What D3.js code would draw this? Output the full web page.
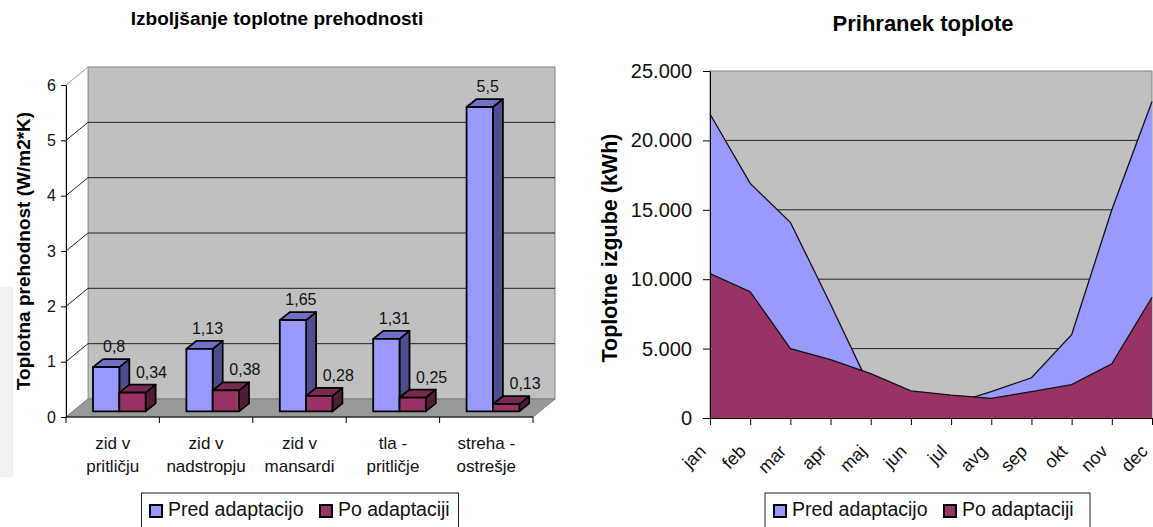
<!DOCTYPE html>
<html>
<head>
<meta charset="utf-8">
<script src="https://cdn.jsdelivr.net/npm/d3@7"></script>
<style>
  body { margin: 0; background: #fff; }
  svg { display: block; font-family: "Liberation Sans", Arial, sans-serif; }
</style>
</head>
<body>
<script>
const width = 1153;
const height = 527;

// levi graf - toplotna prehodnost
const categories = ["zid v\npritličju", "zid v\nnadstropju", "zid v\nmansardi", "tla -\npritličje", "streha -\nostrešje"];
const series = ["Pred adaptacijo", "Po adaptaciji"];
const predU = [0.8, 1.13, 1.65, 1.31, 5.5];
const poU = [0.34, 0.38, 0.28, 0.25, 0.13];
const uTicks = [0, 1, 2, 3, 4, 5, 6];

// desni graf - prihranek toplote
const months = ["jan", "feb", "mar", "apr", "maj", "jun", "jul", "avg", "sep", "okt", "nov", "dec"];
const predKwh = [21900, 16900, 14100, 8200, 2100, 1400, 1000, 1900, 2900, 6000, 15000, 22800];
const poKwh = [10400, 9100, 5000, 4200, 3200, 1950, 1650, 1420, 1900, 2400, 3900, 8700];
const kwhTicks = [0, 5000, 10000, 15000, 20000, 25000];

const colors = ["#9999ff", "#993366"];
const sideColors = ["#4d4d8f", "#551a38"];
const topColors = ["#7070c8", "#7a2952"];

const sl = d3.formatLocale({decimal: ",", thousands: ".", grouping: [3], currency: ["", " €"]});
const fmtVal = sl.format("");
const fmtKwh = sl.format(",d");

const svg = d3.select("body").append("svg")
    .attr("width", width)
    .attr("height", height);

// siv pas na levi (iz skena)
svg.append("rect").attr("x", 0).attr("y", 287).attr("width", 13).attr("height", 190).attr("fill", "#f1f1f1");

// ---------------- levi graf ----------------
const depth = {x: 22, y: -18};       // globina stene
const fo = {x: 6.6, y: -5.6};        // zamik sprednje ploskve stolpca
const bd = {x: 10, y: -8};           // globina stolpca

const yU = d3.scaleLinear().domain([0, 6]).range([417, 85]);
const xCat = d3.scaleBand().domain(categories).range([66, 533])
    .paddingInner(0.4366).paddingOuter(0.2183);
const xSer = d3.scaleBand().domain(series).range([0, xCat.bandwidth()]);

const left = svg.append("g");
const x0 = 66, x1 = 533, yb = yU(0), yt = yU(6);

// zadnja stena
left.append("rect")
    .attr("x", x0 + depth.x).attr("y", yt + depth.y)
    .attr("width", x1 - x0).attr("height", yb - yt)
    .attr("fill", "#c0c0c0").attr("stroke", "#808080");

// stranska stena
left.append("path")
    .attr("d", `M${x0},${yt}L${x0 + depth.x},${yt + depth.y}L${x0 + depth.x},${yb + depth.y}L${x0},${yb}Z`)
    .attr("fill", "#fff").attr("stroke", "#9a9a9a");

// tla
left.append("path")
    .attr("d", `M${x0},${yb}L${x1},${yb}L${x1 + depth.x},${yb + depth.y}L${x0 + depth.x},${yb + depth.y}Z`)
    .attr("fill", "#999").attr("stroke", "#808080");

// mreža
left.append("g").selectAll("path")
    .data(uTicks.filter(d => d > 0 && d < 6))
    .join("path")
    .attr("d", d => `M${x0},${yU(d)}L${x0 + depth.x},${yU(d) + depth.y}L${x1 + depth.x},${yU(d) + depth.y}`)
    .attr("fill", "none").attr("stroke", "#222").attr("stroke-width", 1);

// osi
const yAxisL = left.append("g")
    .attr("transform", `translate(${x0},0)`)
    .call(d3.axisLeft(yU).tickValues(uTicks).tickSize(5).tickSizeOuter(0).tickPadding(5).tickFormat(d => d));
yAxisL.select(".domain").attr("stroke", "#000");
yAxisL.selectAll(".tick line").attr("stroke", "#000");
yAxisL.selectAll("text").attr("font-size", 16).attr("fill", "#111").attr("font-family", null);

const catTicks = d3.range(categories.length + 1).map(i => x0 + i * xCat.step());
left.append("path").attr("d", `M${x0},${yb}H${x1}`).attr("stroke", "#000");
left.append("g").selectAll("line")
    .data(catTicks)
    .join("line")
    .attr("x1", d => d).attr("x2", d => d)
    .attr("y1", yb).attr("y2", yb + 6)
    .attr("stroke", "#000");

left.append("g").selectAll("text")
    .data(categories)
    .join("text")
    .attr("x", d => xCat(d) + xCat.bandwidth() / 2)
    .attr("text-anchor", "middle")
    .attr("font-size", 17)
    .attr("fill", "#111")
    .selectAll("tspan")
    .data(d => d.split("\n").map((t, i) => ({t, i, c: d})))
    .join("tspan")
    .attr("x", d => xCat(d.c) + xCat.bandwidth() / 2)
    .attr("y", d => 449 + d.i * 23)
    .text(d => d.t);

// stolpci
const barData = [];
categories.forEach((c, i) => {
  barData.push({c, s: 0, v: predU[i]});
  barData.push({c, s: 1, v: poU[i]});
});

const bars = left.append("g").selectAll("g")
    .data(barData)
    .join("g")
    .attr("stroke", "#000")
    .attr("stroke-width", 1.8)
    .attr("stroke-linejoin", "round");

bars.each(function(d) {
  const g = d3.select(this);
  const bx = xCat(d.c) + xSer(series[d.s]) + fo.x;
  const w = xSer.bandwidth();
  const top = yU(d.v) + fo.y;
  const bot = yU(0) + fo.y;
  g.append("path")
      .attr("d", `M${bx + w},${top}L${bx + w + bd.x},${top + bd.y}L${bx + w + bd.x},${bot + bd.y}L${bx + w},${bot}Z`)
      .attr("fill", sideColors[d.s]);
  g.append("path")
      .attr("d", `M${bx},${top}L${bx + w},${top}L${bx + w + bd.x},${top + bd.y}L${bx + bd.x},${top + bd.y}Z`)
      .attr("fill", topColors[d.s]);
  g.append("rect")
      .attr("x", bx).attr("y", top)
      .attr("width", w).attr("height", bot - top)
      .attr("fill", colors[d.s]);
});

left.append("g").selectAll("text")
    .data(barData)
    .join("text")
    .attr("x", d => xCat(d.c) + xSer(series[d.s]) + fo.x + xSer.bandwidth() / 2 + (d.s === 0 ? 8 : 19))
    .attr("y", d => yU(d.v) + fo.y - 15)
    .attr("text-anchor", "middle")
    .attr("font-size", 16)
    .attr("fill", "#111")
    .text(d => fmtVal(d.v));

// naslov in oznaka osi
svg.append("text")
    .attr("x", 277).attr("y", 25)
    .attr("text-anchor", "middle")
    .attr("font-size", 19).attr("font-weight", "bold")
    .text("Izboljšanje toplotne prehodnosti");

svg.append("text")
    .attr("transform", "translate(30,251) rotate(-90)")
    .attr("text-anchor", "middle")
    .attr("font-size", 19).attr("font-weight", "bold")
    .text("Toplotna prehodnost (W/m2*K)");

// ---------------- desni graf ----------------
const xM = d3.scalePoint().domain(months).range([710, 1152]);
const yK = d3.scaleLinear().domain([0, 25000]).range([418, 71]);

const right = svg.append("g");

right.append("rect")
    .attr("x", 710).attr("y", yK(25000))
    .attr("width", 1152 - 710).attr("height", yK(0) - yK(25000))
    .attr("fill", "#c0c0c0").attr("stroke", "#808080");

right.append("g").selectAll("line")
    .data(kwhTicks.filter(d => d > 0 && d < 25000))
    .join("line")
    .attr("x1", 710).attr("x2", 1152)
    .attr("y1", d => yK(d)).attr("y2", d => yK(d))
    .attr("stroke", "#222");

const area = d3.area().x((d, i) => xM(months[i])).y0(yK(0)).y1(d => yK(d));
const line = d3.line().x((d, i) => xM(months[i])).y(d => yK(d));

[predKwh, poKwh].forEach((vals, s) => {
  right.append("path").attr("d", area(vals)).attr("fill", colors[s]);
  right.append("path").attr("d", line(vals)).attr("fill", "none").attr("stroke", "#111").attr("stroke-width", 1.3);
});

const yAxisR = right.append("g")
    .attr("transform", "translate(710,0)")
    .call(d3.axisLeft(yK).tickValues(kwhTicks).tickSize(7).tickSizeOuter(0).tickPadding(11).tickFormat(fmtKwh));
yAxisR.select(".domain").attr("stroke", "#000");
yAxisR.selectAll(".tick line").attr("stroke", "#000");
yAxisR.selectAll("text").attr("font-size", 20).attr("fill", "#111").attr("font-family", null);

const xAxisR = right.append("g")
    .attr("transform", `translate(0,${yK(0)})`)
    .call(d3.axisBottom(xM).tickSize(7).tickSizeOuter(0));
xAxisR.select(".domain").attr("stroke", "#000");
xAxisR.selectAll(".tick line").attr("stroke", "#000");
xAxisR.selectAll("text")
    .attr("font-size", 18).attr("fill", "#111").attr("font-family", null)
    .attr("text-anchor", "end")
    .attr("x", 0).attr("y", 0).attr("dy", "0.35em")
    .attr("transform", "translate(-8,30) rotate(-45)");

svg.append("text")
    .attr("x", 923).attr("y", 31)
    .attr("text-anchor", "middle")
    .attr("font-size", 22).attr("font-weight", "bold")
    .text("Prihranek toplote");

svg.append("text")
    .attr("transform", "translate(617,248) rotate(-90)")
    .attr("text-anchor", "middle")
    .attr("font-size", 21.5).attr("font-weight", "bold")
    .text("Toplotne izgube (kWh)");

// ---------------- legende ----------------
function legend(x, w, items) {
  const g = svg.append("g");
  g.append("rect").attr("x", x).attr("y", 493).attr("width", w).attr("height", 40)
      .attr("fill", "#fff").attr("stroke", "#222");
  const it = g.selectAll("g").data(items).join("g")
      .attr("transform", d => `translate(${d.x},0)`);
  it.append("rect").attr("x", 0).attr("y", 505).attr("width", 12).attr("height", 12)
      .attr("fill", d => colors[d.s]).attr("stroke", "#000").attr("stroke-width", 2);
  it.append("text").attr("x", 18).attr("y", 516)
      .attr("font-size", 19.5).attr("fill", "#111")
      .text(d => series[d.s]);
}
legend(141.5, 317, [{s: 0, x: 150}, {s: 1, x: 320}]);
legend(765, 325, [{s: 0, x: 774}, {s: 1, x: 944}]);
</script>
</body>
</html>
